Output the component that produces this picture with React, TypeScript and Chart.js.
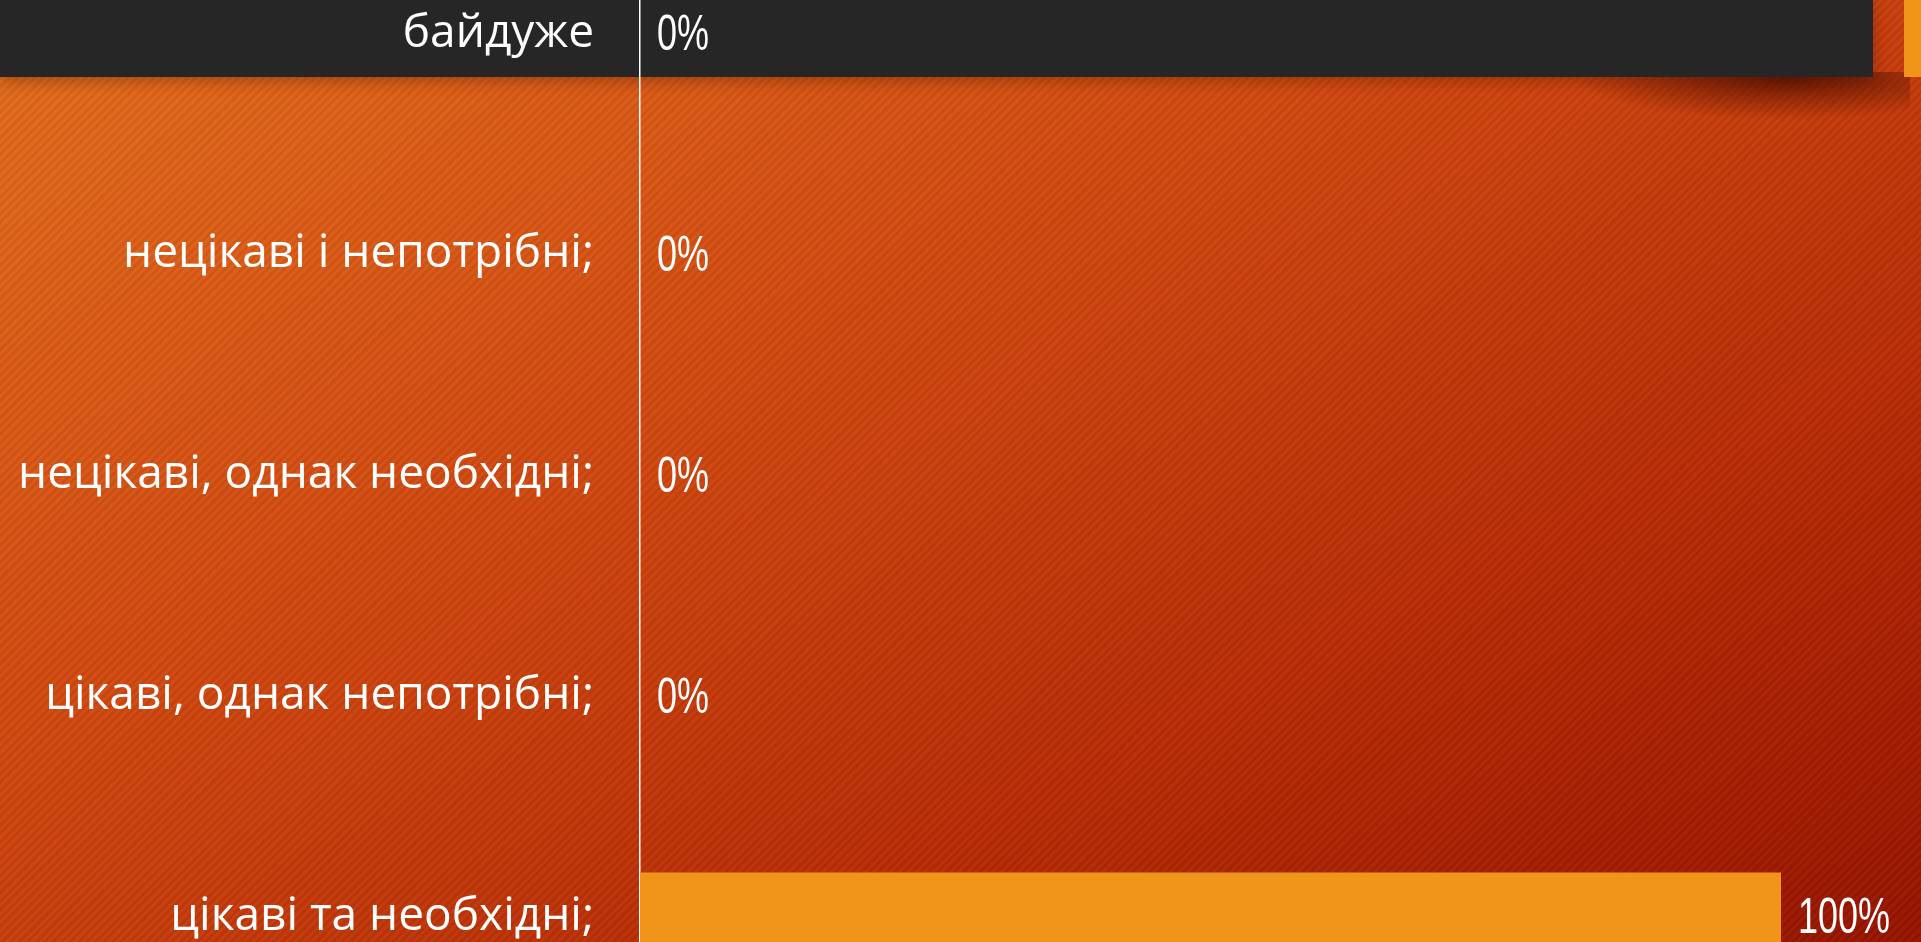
import React, { useEffect, useRef } from "react";
import { Chart, registerables } from "chart.js";

Chart.register(...registerables);

const categories: string[] = [
  "байдуже",
  "нецікаві і непотрібні;",
  "нецікаві, однак необхідні;",
  "цікаві, однак непотрібні;",
  "цікаві та необхідні;",
];
const shares: number[] = [0, 0, 0, 0, 100];
const valueLabels: string[] = ["0%", "0%", "0%", "0%", "100%"];

const valueLabelPlugin = {
  id: "valueLabels",
  afterDatasetsDraw(chart: any) {
    const ctx = chart.ctx;
    const meta = chart.getDatasetMeta(0);
    meta.data.forEach((el: any, i: number) => {
      ctx.save();
      ctx.font = "50px 'Liberation Sans', sans-serif";
      ctx.fillStyle = "#ffffff";
      ctx.textAlign = "left";
      ctx.textBaseline = "middle";
      ctx.translate(el.x + 17, el.y + 3);
      ctx.scale(0.72, 1);
      ctx.fillText(valueLabels[i], 0, 0);
      ctx.restore();
    });
  },
};

export default function App() {
  const canvasRef = useRef<HTMLCanvasElement | null>(null);

  useEffect(() => {
    if (!canvasRef.current) return;
    const chart = new Chart(canvasRef.current, {
      type: "bar",
      data: {
        labels: categories,
        datasets: [
          {
            data: shares,
            backgroundColor: "#f0951a",
            borderWidth: 0,
            barPercentage: 0.4,
            categoryPercentage: 1,
          },
        ],
      },
      options: {
        indexAxis: "y",
        responsive: false,
        maintainAspectRatio: false,
        animation: false,
        layout: { padding: { left: 0, right: 140, top: 0, bottom: 0 } },
        plugins: {
          legend: { display: false },
          tooltip: { enabled: false },
          title: { display: false },
        },
        scales: {
          x: { display: false, min: 0, max: 100 },
          y: {
            type: "category",
            grid: { display: false, drawTicks: false },
            border: { display: true, color: "#ffffff", width: 1.5 },
            ticks: {
              color: "#ffffff",
              padding: 46,
              font: { family: "'Open Sans', 'Noto Sans', sans-serif", size: 46 },
            },
            afterFit: (scale: any) => {
              scale.width = 640;
              scale.paddingTop = 0;
              scale.paddingBottom = 0;
            },
          },
        },
      },
      plugins: [valueLabelPlugin],
    });
    return () => chart.destroy();
  }, []);

  return (
    <div
      style={{
        position: "fixed",
        left: 0,
        top: 0,
        width: 1921,
        height: 942,
        overflow: "hidden",
        background:
          "linear-gradient(to bottom right, #e56f1d 0%, #d14810 40%, #b82c05 70%, #971400 100%)",
      }}
    >
      <div
        style={{
          position: "absolute",
          inset: 0,
          background:
            "repeating-linear-gradient(135deg, rgba(0,0,0,0.05) 0px, rgba(0,0,0,0.05) 3px, rgba(255,255,255,0.025) 3px, rgba(255,255,255,0.025) 6px)",
        }}
      />
      <div
        style={{
          position: "absolute",
          left: 1350,
          top: 72,
          width: 560,
          height: 70,
          background:
            "radial-gradient(ellipse 38% 60% at 78% 8%, rgba(70,10,0,0.75), rgba(70,10,0,0) 100%)",
        }}
      />
      <div
        style={{
          position: "absolute",
          left: 0,
          top: 0,
          width: 1873,
          height: 77,
          background: "#262626",
          boxShadow: "0 4px 14px rgba(60,15,0,0.35)",
        }}
      />
      <div
        style={{
          position: "absolute",
          left: 1904,
          top: 0,
          width: 17,
          height: 77,
          background: "#f0951a",
        }}
      />
      <canvas
        ref={canvasRef}
        width={1921}
        height={1104}
        style={{ position: "absolute", left: 0, top: -77, width: 1921, height: 1104 }}
      />
    </div>
  );
}
